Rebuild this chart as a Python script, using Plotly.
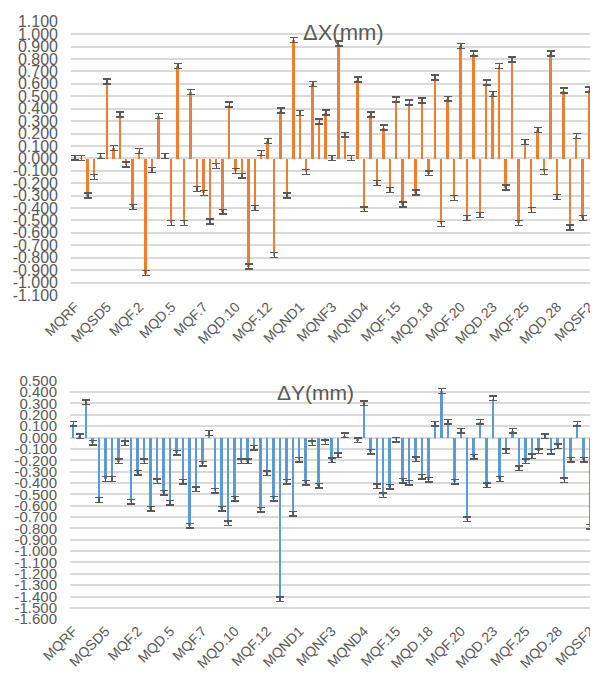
import plotly.graph_objects as go

# ---------------- data ----------------
tick_labels = ["MQRF", "MQSD5", "MQF.2", "MQD.5", "MQF.7", "MQD.10", "MQF.12", "MQND1",
               "MQNF3", "MQND4", "MQF.15", "MQD.18", "MQF.20", "MQD.23", "MQF.25",
               "MQD.28", "MQSF2"]
label_every = 5  # one tick label for every 5th magnet

dx = [0.005, 0.003, -0.30, -0.15, 0.02, 0.62, 0.085, 0.355, -0.05, -0.39,
      0.06, -0.925, -0.095, 0.34, 0.02, -0.52, 0.745, -0.52, 0.535, -0.245,
      -0.28, -0.51, -0.06, -0.43, 0.435, -0.10, -0.14, -0.87, -0.40, 0.045,
      0.14, -0.78, 0.385, -0.30, 0.955, 0.365, -0.11, 0.60, 0.295, 0.37,
      0.003, 0.925, 0.19, 0.003, 0.635, -0.41, 0.355, -0.20, 0.25, -0.255,
      0.475, -0.37, 0.45, -0.275, 0.465, -0.12, 0.65, -0.53, 0.48, -0.32,
      0.905, -0.48, 0.845, -0.455, 0.61, 0.52, 0.745, -0.235, 0.795, -0.52,
      0.13, -0.415, 0.23, -0.11, 0.845, -0.31, 0.545, -0.555, 0.18, -0.48,
      0.555, 0.91]

dy = [0.12, 0.01, 0.31, -0.045, -0.55, -0.365, -0.365, -0.21, -0.05, -0.565,
      -0.31, -0.21, -0.625, -0.385, -0.485, -0.575, -0.135, -0.39, -0.775, -0.455,
      -0.23, 0.04, -0.47, -0.625, -0.755, -0.54, -0.21, -0.21, -0.09, -0.635,
      -0.315, -0.54, -1.425, -0.39, -0.67, -0.195, -0.40, -0.05, -0.425, -0.04,
      -0.20, -0.155, 0.02, None, -0.025, 0.30, -0.125, -0.43, -0.51, -0.435,
      -0.02, -0.38, -0.40, -0.19, -0.345, -0.37, 0.12, 0.41, 0.14, -0.39,
      0.06, -0.72, -0.17, 0.14, -0.42, 0.345, -0.365, -0.12, 0.06, -0.27,
      -0.21, -0.165, -0.12, 0.01, -0.125, -0.075, -0.375, -0.195, 0.12, -0.195,
      -0.785, -0.095]

err = 0.02  # constant error bar (mm)

x_ticks = [0.1 * k for k in range(-11, 12)]   # ΔX axis ticks
y_ticks = [0.1 * k for k in range(-16, 6)]    # ΔY axis ticks

# ---------------- figure ----------------
WIN_W, WIN_H = 598, 674
OFF = 8                      # page body margin the browser adds
W, H = WIN_W - OFF, WIN_H - OFF
FONT = "Liberation Sans"
GREY = "#595959"
GRID = "#d9d9d9"

idx = list(range(len(dx)))
tickvals_x = [i * label_every for i in range(len(tick_labels))]

def fmt(v):
    return f"{round(v, 3) + 0.0:.3f}"

def px_x(p):
    return (p - OFF) / W

def px_y(p):
    return (H - (p - OFF)) / H

fig = go.Figure()

fig.add_trace(go.Bar(
    x=idx, y=dx, width=0.3, marker=dict(color="#ED7D31", line=dict(width=0)),
    error_y=dict(type="constant", value=err, color=GREY, thickness=1.5, width=4),
    xaxis="x", yaxis="y", showlegend=False))

fig.add_trace(go.Bar(
    x=idx, y=dy, width=0.3, marker=dict(color="#5B9BD5", line=dict(width=0)),
    error_y=dict(type="constant", value=err, color=GREY, thickness=1.5, width=4),
    xaxis="x2", yaxis="y2", showlegend=False))

common_x = dict(tickmode="array", tickvals=tickvals_x, ticktext=tick_labels,
                tickangle=-45, showgrid=False, zeroline=False, showline=False,
                ticks="", automargin=False,
                tickfont=dict(family=FONT, size=14, color=GREY))

fig.update_layout(
    template="none",
    width=W, height=H, margin=dict(l=0, r=0, t=0, b=0, autoexpand=False),
    paper_bgcolor="white", plot_bgcolor="white", bargap=0,
    xaxis=dict(domain=[px_x(71), 1], range=[-0.62, 81.34], anchor="y", **common_x),
    yaxis=dict(domain=[px_y(295), px_y(21.7)], range=[-1.1005, 1.1005],
               tickmode="array", tickvals=x_ticks, ticktext=[fmt(v) for v in x_ticks],
               showgrid=True, gridcolor=GRID, gridwidth=1.6, zeroline=False,
               showline=False, ticks="", ticklabelstandoff=12, anchor="x",
               automargin=False,
               tickfont=dict(family=FONT, size=16, color=GREY)),
    xaxis2=dict(domain=[px_x(70), 1], range=[-0.51, 81.2], anchor="y2", **common_x),
    yaxis2=dict(domain=[px_y(619.3), px_y(380.7)], range=[-1.6005, 0.5005],
                tickmode="array", tickvals=y_ticks, ticktext=[fmt(v) for v in y_ticks],
                showgrid=True, gridcolor=GRID, gridwidth=1.6, zeroline=False,
                showline=False, ticks="", ticklabelstandoff=12, anchor="x2",
                automargin=False,
                tickfont=dict(family=FONT, size=15, color=GREY)),
    annotations=[
        dict(text="ΔX(mm)", x=px_x(343), y=px_y(32.5), xref="paper", yref="paper",
             showarrow=False, xanchor="center", yanchor="middle",
             font=dict(family=FONT, size=22, color=GREY)),
        dict(text="ΔY(mm)", x=px_x(315), y=px_y(392), xref="paper", yref="paper",
             showarrow=False, xanchor="center", yanchor="middle",
             font=dict(family=FONT, size=21, color=GREY)),
    ],
)

fig.write_html("out.html")
